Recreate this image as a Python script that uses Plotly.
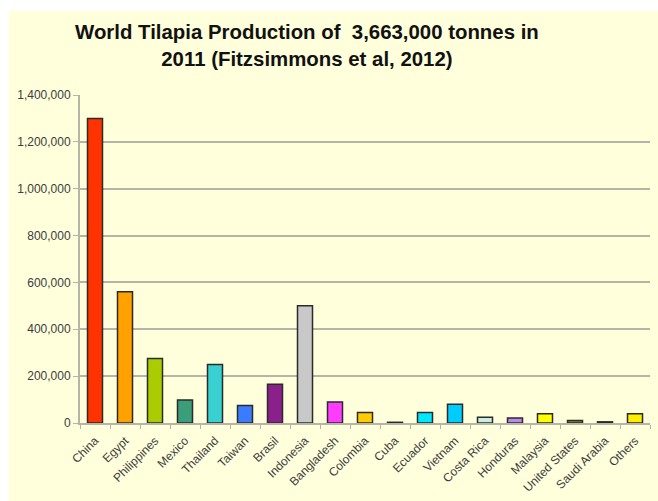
import plotly.graph_objects as go

# Tilapia production by country, 2011 (tonnes)
countries = ["China", "Egypt", "Philippines", "Mexico", "Thailand", "Taiwan",
             "Brasil", "Indonesia", "Bangladesh", "Colombia", "Cuba", "Ecuador",
             "Vietnam", "Costa Rica", "Honduras", "Malaysia", "United States",
             "Saudi Arabia", "Others"]
production = [1300000, 560000, 275000, 98000, 250000, 75000,
              165000, 500000, 90000, 45000, 3000, 45000,
              80000, 25000, 21000, 40000, 11000, 5000, 40000]
bar_colors = ["#FF3300", "#FFA200", "#AACC00", "#3A9E7A", "#38D0D0", "#3A7CFF",
              "#8B1F8B", "#C8C8C8", "#FF3CFF", "#FFCC00", "#8A8A70", "#00E8FF",
              "#00CCFF", "#CCEEDD", "#BB88EE", "#FFFF00", "#8A8A20",
              "#6A6A5A", "#FFEE00"]
y_ticks = [0, 200000, 400000, 600000, 800000, 1000000, 1200000, 1400000]
y_labels = ["0", "200,000", "400,000", "600,000", "800,000",
            "1,000,000", "1,200,000", "1,400,000"]
title_text = ("World Tilapia Production of  3,663,000 tonnes in<br>"
              "2011 (Fitzsimmons et al, 2012)")

bg = "#FFFFDC"
grid = "#B4B4A8"
PW, PH = 570, 328  # plot area size in px

fig = go.Figure(go.Bar(
    x=countries,
    y=production,
    marker=dict(color=bar_colors, line=dict(color="#2A2A2A", width=1.5)),
))

fig.update_layout(
    width=658, height=501,
    paper_bgcolor=bg,
    plot_bgcolor=bg,
    margin=dict(l=80, r=8, t=95, b=78),
    bargap=0.5,
    showlegend=False,
    font=dict(family="Liberation Sans, Arial, sans-serif", color="#3C3C3C", size=12),
    shapes=[
        # white strip along the top edge
        dict(type="rect", xref="paper", yref="paper",
             x0=-80 / PW, x1=1 + 8 / PW, y0=1 + 84 / PH, y1=1 + 95 / PH,
             fillcolor="white", line=dict(width=0), layer="above"),
        # white strip along the left edge
        dict(type="rect", xref="paper", yref="paper",
             x0=-80 / PW, x1=-71 / PW, y0=-78 / PH, y1=1 + 95 / PH,
             fillcolor="white", line=dict(width=0), layer="above"),
    ],
    annotations=[dict(
        text=title_text, xref="paper", yref="paper",
        x=(307 - 80) / PW, y=1 + (95 - 19) / PH,
        xanchor="center", yanchor="top", showarrow=False, align="center",
        font=dict(family="Liberation Sans, Arial, sans-serif", size=20.4,
                  color="#111111", weight="bold"),
    )],
)

fig.update_xaxes(
    tickangle=-45, automargin=False, ticklabelstandoff=4,
    ticks="outside", tickson="boundaries", ticklen=4, tickcolor=grid, tickwidth=1,
    showline=True, linecolor=grid, linewidth=2,
    showgrid=False,
    tickfont=dict(size=12, color="#3C3C3C"),
)
fig.update_yaxes(
    range=[0, 1400000], automargin=False,
    tickvals=y_ticks, ticktext=y_labels,
    ticks="outside", ticklen=5, tickcolor=grid, tickwidth=1,
    showline=True, linecolor=grid, linewidth=2,
    showgrid=True, gridcolor=grid, gridwidth=1.5,
    zeroline=False,
    tickfont=dict(size=12, color="#3C3C3C"),
)

fig.write_html("out.html")
